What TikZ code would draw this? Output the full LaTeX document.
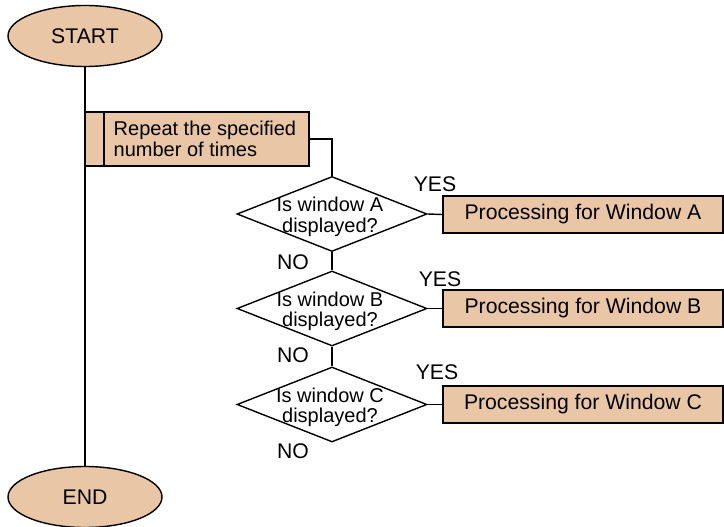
\documentclass[tikz,border=0pt]{standalone}
\usepackage{fontspec}
\setmainfont{Liberation Sans}
\usetikzlibrary{shapes.geometric}
\definecolor{boxfill}{RGB}{233,199,166}
\begin{document}
\begin{tikzpicture}[x=1pt,y=-1pt,
  line width=1.4pt,
  every node/.style={font=\fontsize{21.2}{20.5}\selectfont},
  small/.style={font=\fontsize{20}{20.5}\selectfont},
  terminal/.style={ellipse,draw,fill=boxfill,minimum width=154pt,minimum height=61pt,inner sep=0pt},
  decision/.style={diamond,draw,minimum width=190pt,minimum height=75pt,inner sep=0pt},
  process/.style={rectangle,draw,fill=boxfill,minimum width=280pt,minimum height=37pt,inner sep=0pt},
  loopbox/.style={rectangle,draw,fill=boxfill,minimum width=224pt,minimum height=54pt,inner sep=0pt},
  lbl/.style={inner sep=0pt}]
\useasboundingbox (0,0) rectangle (724,527);

% terminals and the main line
\node[terminal] (start) at (85,36) {START};
\node[terminal] (end) at (85,497) {END};
\draw (start) -- (end);

% loop block
\node[loopbox] (loop) at (197,139) {};
\coordinate (divtop) at (104,112);
\coordinate (divbot) at (104,166);
\draw (divtop) -- (divbot);
\node[lbl,small,anchor=west,align=left] (looptext) at (113,139) {Repeat the specified\\number of times};

% decisions
\node[decision] (decA) at (332,214) {};
\node[decision] (decB) at (332,308.5) {};
\node[decision] (decC) at (332,404.5) {};
\node[lbl,small,align=center] (qA) at (330,217) {Is window A\\displayed?};
\node[lbl,small,align=center] (qB) at (330,311.5) {Is window B\\displayed?};
\node[lbl,small,align=center] (qC) at (330,407.5) {Is window C\\displayed?};

% processing boxes
\node[process] (procA) at (583,214.5) {Processing for Window A};
\node[process] (procB) at (583,308.5) {Processing for Window B};
\node[process] (procC) at (583,404.5) {Processing for Window C};

% connectors
\draw (loop.east) -| (decA.north);
\draw (decA.south) -- (decB.north);
\draw (decB.south) -- (decC.north);
\draw (decA.east) -- (procA.west);
\draw (decB.east) -- (procB.west);
\draw (decC.east) -- (procC.west);

% branch labels
\node[lbl] (yesA) at (435,184) {YES};
\node[lbl] (yesB) at (440,279) {YES};
\node[lbl] (yesC) at (437,372) {YES};
\node[lbl] (noA) at (293,262) {NO};
\node[lbl] (noB) at (293,355) {NO};
\node[lbl] (noC) at (293,451) {NO};
\end{tikzpicture}
\end{document}
